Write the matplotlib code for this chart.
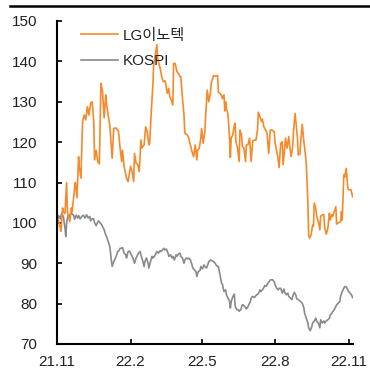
import matplotlib
matplotlib.use("Agg")
import matplotlib.pyplot as plt
from matplotlib.lines import Line2D

plt.rcParams['font.family'] = ['Liberation Sans', 'Noto Sans CJK KR', 'DejaVu Sans']

# x: calendar days from 2021-11-01
lg_days = [0, 2, 5, 7, 8, 10, 12, 13, 16, 18, 19, 22, 23, 25, 27, 28, 30, 32, 34, 36,
           38, 40, 42, 44, 46, 47, 49, 51, 53, 55, 57, 59, 61, 62, 64, 66, 67, 69, 71, 74,
           77, 79, 81, 82, 84, 87, 89, 92, 94, 96, 97, 99, 101, 103, 105, 106, 109, 111, 113, 115,
           116, 118, 120, 121, 123, 125, 126, 128, 130, 131, 133, 135, 136, 138, 140, 141, 143, 145, 146, 148,
           150, 152, 154, 155, 157, 159, 160, 163, 165, 167, 169, 171, 173, 175, 176, 178, 180, 181, 183, 185,
           186, 188, 190, 192, 193, 196, 198, 201, 202, 204, 206, 207, 209, 210, 211, 212, 214, 216, 217, 218,
           220, 222, 223, 224, 226, 228, 229, 231, 232, 234, 236, 237, 239, 241, 242, 243, 245, 247, 249, 251,
           252, 254, 256, 257, 259, 261, 263, 265, 267, 269, 272, 273, 276, 278, 280, 282, 283, 285, 286, 288,
           290, 291, 293, 295, 296, 298, 300, 301, 302, 304, 305, 307, 309, 310, 312, 314, 315, 316, 318, 320,
           321, 322, 324, 325, 327, 329, 330, 332, 334, 335, 337, 339, 341, 342, 344, 345, 347, 349, 350, 352,
           355, 356, 357, 359, 360, 362, 364, 365, 368, 370]
lg_vals = [100.0, 100.5, 97.9, 103.7, 102.7, 102.3, 110.0, 102.8, 100.3, 103.7, 102.7, 108.6, 110.0, 106.2, 116.4, 113.6, 111.1, 125.1, 126.7, 125.5,
           128.8, 126.7, 129.6, 130.0, 125.1, 115.6, 118.0, 115.2, 114.6, 134.6, 132.5, 126.0, 131.7, 129.6, 126.7, 124.3, 121.8, 116.0, 123.4, 123.5,
           122.6, 118.5, 115.2, 118.0, 114.0, 111.1, 110.2, 114.0, 112.7, 110.2, 117.2, 114.8, 114.5, 112.7, 120.5, 118.5, 119.3, 123.8, 122.6, 119.3,
           119.7, 127.6, 134.2, 139.1, 141.6, 144.1, 140.8, 139.1, 137.5, 136.2, 135.0, 135.2, 134.6, 132.1, 133.3, 131.3, 130.5, 129.2, 139.5, 139.5,
           137.5, 137.0, 136.2, 136.2, 130.9, 126.7, 122.2, 121.8, 121.0, 119.3, 117.6, 116.4, 119.3, 115.6, 118.0, 118.4, 121.0, 123.4, 119.7, 122.6,
           126.3, 132.9, 130.0, 132.1, 134.6, 136.5, 136.3, 136.5, 132.3, 132.1, 131.5, 130.8, 131.7, 127.7, 130.0, 128.4, 126.9, 121.0, 116.2, 121.0,
           121.8, 124.3, 124.7, 120.1, 118.5, 115.2, 123.0, 121.8, 118.9, 118.5, 115.2, 119.3, 119.3, 121.0, 118.3, 115.2, 120.3, 120.5, 120.5, 123.0,
           127.4, 126.3, 125.1, 125.7, 123.8, 123.0, 122.2, 117.2, 123.0, 123.0, 122.6, 119.7, 116.8, 113.7, 119.7, 120.1, 114.4, 118.5, 121.0, 118.5,
           121.4, 119.5, 116.4, 118.9, 122.6, 127.1, 123.0, 121.1, 116.8, 117.0, 120.1, 124.4, 120.1, 118.5, 114.8, 105.3, 97.0, 96.2, 97.0, 99.5,
           99.2, 104.9, 103.5, 101.6, 100.4, 98.3, 101.6, 102.0, 102.0, 98.9, 97.2, 98.6, 102.4, 100.7, 102.0, 101.6, 102.8, 104.0, 99.7, 100.0,
           100.3, 102.8, 100.7, 111.9, 111.3, 113.5, 108.6, 108.2, 108.2, 106.5]

kospi_days = [0, 2, 4, 6, 8, 10, 11, 12, 14, 16, 17, 19, 21, 22, 24, 26, 27, 29, 31, 33,
              35, 37, 39, 41, 42, 44, 46, 47, 49, 51, 52, 54, 56, 57, 59, 61, 62, 64, 66, 67,
              68, 69, 71, 72, 74, 76, 77, 79, 81, 82, 84, 86, 87, 89, 91, 92, 95, 97, 99, 100,
              102, 104, 105, 107, 109, 110, 112, 114, 115, 117, 119, 120, 122, 124, 125, 127, 129, 130, 132, 134,
              135, 137, 139, 140, 142, 144, 145, 147, 149, 150, 152, 154, 155, 157, 159, 160, 162, 164, 165, 167,
              169, 170, 172, 174, 175, 177, 179, 180, 182, 184, 185, 187, 189, 190, 192, 194, 196, 198, 199, 201,
              202, 204, 206, 207, 209, 211, 212, 214, 216, 217, 218, 220, 222, 223, 225, 227, 228, 230, 232, 233,
              235, 237, 238, 240, 242, 243, 245, 247, 249, 250, 252, 254, 255, 257, 259, 260, 262, 263, 265, 267,
              268, 270, 272, 273, 275, 277, 278, 280, 282, 284, 285, 287, 289, 290, 292, 294, 295, 297, 299, 300,
              302, 304, 305, 307, 309, 310, 312, 314, 315, 317, 319, 320, 322, 324, 325, 327, 329, 330, 332, 334,
              335, 337, 339, 341, 342, 344, 345, 347, 349, 350, 352, 354, 355, 357, 359, 360, 362, 364, 365, 367,
              369, 370]
kospi_vals = [100.0, 101.8, 101.0, 102.4, 101.5, 98.7, 96.6, 99.9, 102.0, 101.5, 102.4, 102.2, 101.8, 100.9, 101.9, 101.2, 101.8, 101.0, 101.6, 101.9,
              101.2, 102.0, 101.2, 101.6, 100.5, 101.0, 101.0, 100.0, 99.3, 100.2, 100.5, 100.0, 99.5, 99.1, 98.3, 97.0, 96.6, 95.4, 94.2, 92.5,
              90.8, 89.2, 90.4, 90.8, 91.7, 92.9, 93.0, 93.7, 93.7, 93.9, 92.5, 92.1, 91.3, 92.9, 93.0, 92.5, 91.3, 90.0, 91.3, 91.7,
              92.5, 92.9, 92.1, 90.8, 89.2, 90.4, 91.3, 90.0, 88.8, 90.4, 91.7, 91.3, 91.7, 92.5, 92.9, 92.5, 93.1, 92.9, 93.3, 93.7,
              93.3, 93.5, 92.5, 91.7, 92.1, 91.3, 91.7, 90.8, 92.1, 91.7, 92.3, 92.5, 91.7, 91.3, 90.0, 90.8, 91.3, 91.1, 91.3, 90.8,
              89.6, 88.8, 88.4, 87.9, 86.7, 88.0, 88.2, 89.2, 88.6, 89.6, 89.2, 88.8, 89.8, 90.4, 90.8, 90.6, 90.4, 90.0, 89.6, 89.2,
              89.2, 87.1, 85.1, 84.8, 83.0, 83.4, 82.2, 81.4, 80.6, 78.9, 80.5, 81.7, 82.3, 79.3, 78.5, 78.5, 78.1, 78.5, 79.7, 79.7,
              79.3, 78.7, 78.9, 79.7, 80.5, 81.4, 81.8, 81.5, 82.0, 82.2, 82.4, 83.4, 83.0, 83.4, 84.0, 84.5, 84.3, 84.8, 85.3, 85.9,
              85.9, 85.9, 85.4, 84.7, 83.8, 83.4, 83.8, 83.8, 82.6, 83.6, 82.8, 82.2, 82.6, 81.8, 81.4, 81.0, 81.8, 82.8, 82.1, 81.2,
              81.0, 80.7, 80.5, 80.1, 78.9, 77.6, 76.4, 75.2, 74.0, 73.3, 74.4, 75.2, 75.7, 76.4, 75.7, 75.2, 74.0, 76.0, 75.2, 75.7,
              75.2, 75.7, 76.0, 76.4, 77.2, 77.6, 78.0, 78.5, 79.3, 79.7, 80.1, 80.5, 81.8, 83.0, 83.8, 84.2, 84.2, 83.4, 83.0, 82.6,
              82.0, 81.5]

series_names = ['LG이노텍', 'KOSPI']
tick_days = [0, 92, 181, 273, 365]
tick_labels = ['21.11', '22.2', '22.5', '22.8', '22.11']
y_ticks = [70, 80, 90, 100, 110, 120, 130, 140, 150]

ORANGE = '#F7892A'
GREY = '#8A8A8A'

fig = plt.figure(figsize=(3.70, 3.87), dpi=100)
ax = fig.add_axes([57/370, 43/387, 296/370, 323/387])

l_k, = ax.plot(kospi_days, kospi_vals, color=GREY, lw=1.2)
l_lg, = ax.plot(lg_days, lg_vals, color=ORANGE, lw=1.2)

ax.set_xlim(0, 370.5)
ax.set_ylim(70, 150)
ax.set_xticks(tick_days)
ax.set_xticklabels(tick_labels)
ax.set_yticks(y_ticks)

for s in ['top', 'right']:
    ax.spines[s].set_visible(False)
for s in ['left', 'bottom']:
    ax.spines[s].set_linewidth(1.5)
    ax.spines[s].set_color('black')

ax.tick_params(axis='both', direction='in', length=3.5, width=1.2, labelsize=11, colors='black')
ax.tick_params(axis='y', pad=14)
ax.tick_params(axis='x', pad=8)
for lab in ax.get_xticklabels() + ax.get_yticklabels():
    lab.set_color('#222222')

leg = ax.legend([l_lg, l_k], series_names, loc='upper left', bbox_to_anchor=(0.055, 1.0),
                frameon=False, fontsize=11, handlelength=2.4, handletextpad=0.35,
                labelspacing=0.75, borderpad=0.0)
for t in leg.get_texts():
    t.set_color('#222222')

# top rule across the figure
fig.add_artist(Line2D([10/370, 1.0], [1 - 6/387, 1 - 6/387], transform=fig.transFigure,
                      color='black', lw=1.8))

fig.savefig('out.png', dpi=100)
